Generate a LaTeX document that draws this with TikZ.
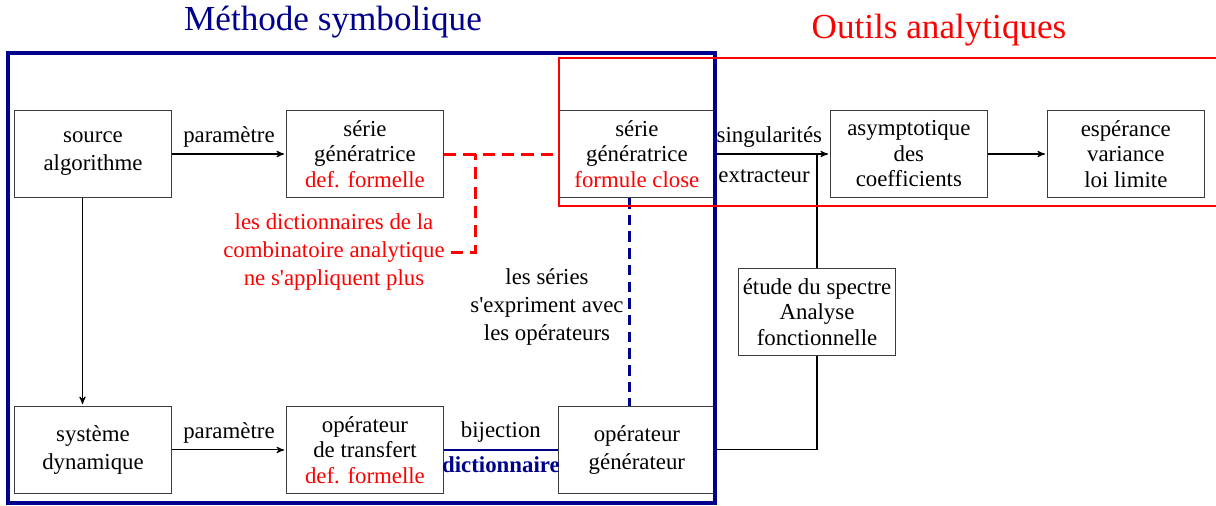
\documentclass[tikz,border=0pt]{standalone}
\usepackage{fontspec}
\setmainfont{Liberation Serif}
\usetikzlibrary{arrows}
\definecolor{navy}{RGB}{0,0,140}
\definecolor{boxgray}{RGB}{60,60,60}

\begin{document}
\begin{tikzpicture}[x=0.02cm,y=-0.02cm,>=stealth',auto,node distance=5.44cm,
    font=\fontsize{13}{15}\selectfont,
    main node/.style={rectangle,draw=boxgray,line width=0.7pt,minimum width=3.14cm,
      minimum height=1.74cm,inner sep=0pt,align=center,font=\fontsize{13}{14.5}\selectfont},
    text node/.style={align=center,font=\fontsize{13}{16}\selectfont},
    title node/.style={font=\fontsize{20}{24}\selectfont},
    flow/.style={->,shorten >=1pt,line width=0.6pt},
    red dash/.style={draw=red,line width=1.7pt,dash pattern=on 7pt off 4pt},
    blue dash/.style={draw=navy,line width=1.6pt,dash pattern=on 6pt off 3.5pt}]
    \useasboundingbox (0,0) rectangle (1216,505);
    \node[main node] (1) at (93,154) {source\\[1.5pt]algorithme};
    \node[main node] (2) [right of=1] {série\\génératrice\\\textcolor{red}{def. formelle}};
    \node[main node] (3) [right of=2] {série\\génératrice\\\textcolor{red}{formule close}};
    \node[main node] (4) [right of=3] {asymptotique\\des\\coefficients};
    \node[main node] (5) [right of=4,node distance=4.34cm] {espérance\\variance\\loi limite};
    \node[main node] (6) [below of=1,node distance=5.92cm] {système\\[1.5pt]dynamique};
    \node[main node] (7) [right of=6] {opérateur\\de transfert\\\textcolor{red}{def. formelle}};
    \node[main node] (8) [right of=7] {opérateur\\[1.5pt]générateur};
    \node[main node] (9) at (817,312) {étude du spectre\\Analyse\\fonctionnelle};
    \node[text node,text=red] (10) at (334,252) {les dictionnaires de la\\combinatoire analytique\\ne s\textquotesingle appliquent plus};
    \node[text node] (11) at (547,307) {les séries\\s\textquotesingle expriment avec\\les opérateurs};
    \node[title node,text=navy] (12) at (333,22) {Méthode symbolique};
    \node[title node,text=red] (13) at (939,30) {Outils analytiques};
    \coordinate (k) at (475,154);
    \draw[flow] (1) -- node[above] {paramètre} (2);
    \draw[flow] ([xshift=-0.21cm]1.south) -- ([xshift=-0.21cm]6.north);
    \draw[flow] (6) -- node[above] {paramètre} (7);
    \draw[draw=navy,line width=1.5pt] (7) -- node[above,text=black] {bijection}
      node[below,text=navy,font=\fontsize{13}{15}\selectfont\bfseries] {dictionnaire} (8);
    \draw[flow] (3) -- node[above,xshift=-2pt] {singularités} node[below=5pt,xshift=-5pt] {extracteur} (4);
    \draw[flow] (4) -- (5);
    \draw[line width=0.6pt] (9) -- (9 |- 3);
    \draw[line width=0.6pt] (8) -| (9);
    \draw[red dash] (2) -- (3);
    \draw[red dash] (10.east) -| (k);
    \draw[blue dash] ([xshift=-0.14cm]3.south) -- ([xshift=-0.14cm]8.north);
    \draw[navy,line width=1.8pt] (8,53) rectangle (715,503);
    \draw[red,line width=0.9pt] (559,58) rectangle (1222,206);
\end{tikzpicture}
\end{document}
